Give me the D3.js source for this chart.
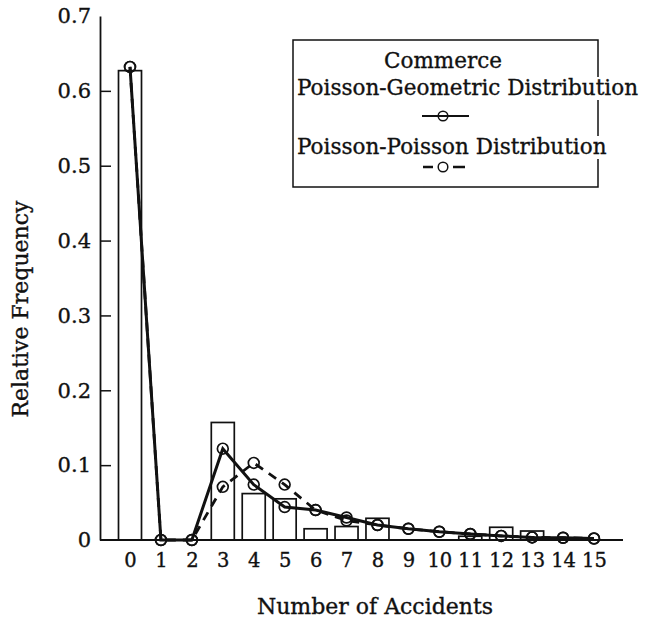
<!DOCTYPE html>
<html>
<head>
<meta charset="utf-8">
<script src="https://cdn.jsdelivr.net/npm/d3@7"></script>
<style>
  html, body { margin: 0; padding: 0; background: #fff; }
  svg { display: block; }
  text { font-family: "DejaVu Serif", serif; fill: #111; stroke: #111; stroke-width: 0.35px; }
</style>
</head>
<body>
<svg id="chart" width="654" height="619"></svg>
<script>
// Number of accidents (categories on the x axis)
const accidents = [0, 1, 2, 3, 4, 5, 6, 7, 8, 9, 10, 11, 12, 13, 14, 15];
// Observed relative frequencies (bars)
const observed = [0.627, 0, 0, 0.157, 0.062, 0.055, 0.015, 0.018, 0.029, 0, 0, 0.005, 0.017, 0.012, 0, 0];
// Fitted Poisson-Geometric distribution (solid line)
const poissonGeometric = [0.632, 0, 0, 0.122, 0.074, 0.044, 0.040, 0.030, 0.020, 0.015, 0.011, 0.008, 0.0055, 0.0035, 0.003, 0.002];
// Fitted Poisson-Poisson distribution (dashed line)
const poissonPoisson = [0.632, 0, 0, 0.071, 0.103, 0.074, 0.040, 0.026, 0.020, 0.015, 0.011, 0.008, 0.0055, 0.0035, 0.003, 0.002];
// Axis ticks
const yTicks = [0, 0.1, 0.2, 0.3, 0.4, 0.5, 0.6, 0.7];
const yTickLabels = ["0", "0.1", "0.2", "0.3", "0.4", "0.5", "0.6", "0.7"];

const legendTitle = "Commerce";
const seriesNames = ["Poisson-Geometric Distribution", "Poisson-Poisson Distribution"];

const svg = d3.select("#chart");
const ink = "#111";

const x = d3.scaleLinear().domain([0, 15]).range([130, 594]);
const y = d3.scaleLinear().domain([0, 0.7]).range([540, 16]);
const barWidth = 23;

// Bars
svg.append("g").selectAll("rect")
  .data(accidents.filter((d, i) => observed[i] > 0))
  .join("rect")
  .attr("x", d => x(d) - barWidth / 2)
  .attr("y", d => y(observed[d]))
  .attr("width", barWidth)
  .attr("height", d => y(0) - y(observed[d]))
  .attr("fill", "#fff")
  .attr("stroke", ink)
  .attr("stroke-width", 1.7);

// Y axis: ticks point into the plot, labels on the left
const yAxis = d3.axisLeft(y)
  .tickValues(yTicks)
  .tickFormat((d, i) => yTickLabels[i])
  .tickSizeInner(-11)
  .tickSizeOuter(0)
  .tickPadding(9);
const gy = svg.append("g").attr("transform", `translate(${100},0)`).call(yAxis);
gy.select(".domain").attr("stroke", ink).attr("stroke-width", 1.8);
gy.selectAll(".tick line").attr("stroke", ink).attr("stroke-width", 1.5)
  .filter(d => d === 0 || d === 0.7).remove();
gy.selectAll(".tick text").style("font-size", "21px").attr("fill", ink);

// X axis: labels only, no tick marks
const xAxis = d3.axisBottom(x)
  .tickValues(accidents)
  .tickFormat(d3.format("d"))
  .tickSize(0)
  .tickPadding(13);
const gx = svg.append("g").attr("transform", `translate(0,${y(0)})`).call(xAxis);
gx.select(".domain").remove();
gx.selectAll(".tick text").style("font-size", "19.5px").attr("fill", ink);
svg.append("line")
  .attr("x1", 100).attr("x2", 623)
  .attr("y1", y(0)).attr("y2", y(0))
  .attr("stroke", ink).attr("stroke-width", 1.8);

// Fitted distributions
const line = d3.line().x((d, i) => x(accidents[i])).y(d => y(d));

svg.append("path")
  .datum(poissonPoisson)
  .attr("d", line)
  .attr("fill", "none")
  .attr("stroke", ink)
  .attr("stroke-width", 2.8)
  .attr("stroke-dasharray", "9,7");

svg.append("path")
  .datum(poissonGeometric)
  .attr("d", line)
  .attr("fill", "none")
  .attr("stroke", ink)
  .attr("stroke-width", 3);

[poissonPoisson, poissonGeometric].forEach(series => {
  svg.append("g").selectAll("circle")
    .data(series)
    .join("circle")
    .attr("cx", (d, i) => x(accidents[i]))
    .attr("cy", d => y(d))
    .attr("r", 5.4)
    .attr("fill", "none")
    .attr("stroke", ink)
    .attr("stroke-width", 1.7);
});

// Legend
const legend = svg.append("g");
legend.append("rect")
  .attr("x", 293).attr("y", 40)
  .attr("width", 305).attr("height", 147)
  .attr("fill", "#fff")
  .attr("stroke", ink)
  .attr("stroke-width", 1.5);

legend.append("text")
  .attr("x", 443).attr("y", 68)
  .attr("text-anchor", "middle")
  .style("font-size", "21.5px")
  .text(legendTitle);

const nameY = [95, 154];
seriesNames.forEach((name, i) => {
  const t = legend.append("text")
    .attr("x", 297).attr("y", nameY[i])
    .style("font-size", "21.5px")
    .text(name);
  const bb = t.node().getBBox();
  legend.insert("rect", () => t.node())
    .attr("x", bb.x).attr("y", bb.y + 2)
    .attr("width", bb.width + 2).attr("height", bb.height - 2)
    .attr("fill", "#fff");
});

// Legend symbols
legend.append("line")
  .attr("x1", 422).attr("x2", 469).attr("y1", 116).attr("y2", 116)
  .attr("stroke", ink).attr("stroke-width", 2.2);
legend.append("circle")
  .attr("cx", 443).attr("cy", 116).attr("r", 4.8)
  .attr("fill", "none").attr("stroke", ink).attr("stroke-width", 1.5);

legend.append("line")
  .attr("x1", 423).attr("x2", 465).attr("y1", 167).attr("y2", 167)
  .attr("stroke", ink).attr("stroke-width", 2.6)
  .attr("stroke-dasharray", "10,20,12");
legend.append("circle")
  .attr("cx", 443).attr("cy", 167).attr("r", 4.8)
  .attr("fill", "none").attr("stroke", ink).attr("stroke-width", 1.5);

// Axis titles
svg.append("text")
  .attr("x", 375).attr("y", 614)
  .attr("text-anchor", "middle")
  .style("font-size", "22px")
  .text("Number of Accidents");

svg.append("text")
  .attr("transform", "translate(28,309) rotate(-90)")
  .attr("text-anchor", "middle")
  .style("font-size", "22px")
  .text("Relative Frequency");
</script>
</body>
</html>
